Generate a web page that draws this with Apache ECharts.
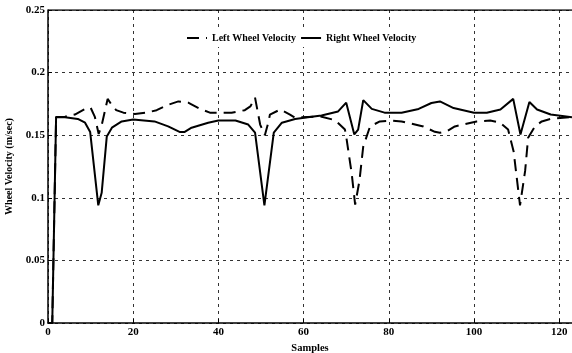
<!DOCTYPE html>
<html>
<head>
<meta charset="utf-8">
<script src="https://cdn.jsdelivr.net/npm/echarts@6/dist/echarts.min.js"></script>
<style>
  html, body { margin: 0; padding: 0; background: #fff; }
  #chart { width: 572px; height: 353px; }
</style>
</head>
<body>
<div id="chart"></div>
<script>
// samples (x) and wheel velocities (m/sec)
const leftX = [0, 1, 1.9, 4, 6.3, 8.7, 10, 11, 11.9, 12.6, 14, 15, 16, 17.7, 20.4, 23.2, 25.5, 28, 30.6, 32.9,
  35.7, 38, 43.1, 46.2, 47.5, 48.6, 49.8, 50.9, 51.7, 52.1, 54.5, 56.8, 58, 61, 64, 67.4, 69.7, 70.1, 71.3, 72.1,
  73.1, 74, 75.6, 77.9, 80.7, 83, 88.1, 90.8, 92, 93.6, 95.5, 100.6, 103.8, 106.1, 108, 109.3, 110.8, 112, 112.7,
  114.3, 115.9, 118, 123];
const leftV = [0, 0, 0.1645, 0.1648, 0.1665, 0.171, 0.172, 0.1646, 0.151, 0.158, 0.179, 0.174, 0.170, 0.168, 0.167,
  0.168, 0.170, 0.174, 0.177, 0.176, 0.171, 0.168, 0.168, 0.170, 0.173, 0.180, 0.1585, 0.150, 0.160, 0.1665,
  0.1705, 0.1665, 0.164, 0.1645, 0.165, 0.162, 0.1545, 0.1467, 0.119, 0.0945, 0.1135, 0.141, 0.157, 0.161,
  0.1617, 0.161, 0.157, 0.1527, 0.152, 0.153, 0.157, 0.161, 0.1617, 0.160, 0.1545, 0.137, 0.094, 0.1215, 0.148,
  0.157, 0.161, 0.163, 0.1645];

const rightX = [0, 1, 1.9, 4, 7, 8.7, 9.9, 11.8, 12.6, 13.8, 15, 17.3, 20, 25, 28.2, 31, 32, 33.7, 37.6, 40, 44,
  47, 48.6, 50.8, 53, 54.9, 58, 61, 64.2, 68.1, 70, 71.9, 72.8, 74, 76, 79, 83, 87, 90, 92, 95.2, 100, 103, 106.2,
  109.2, 110.9, 113, 114.8, 118, 123];
const rightV = [0, 0, 0.1645, 0.1643, 0.163, 0.160, 0.1525, 0.094, 0.104, 0.149, 0.156, 0.161, 0.1625, 0.161,
  0.157, 0.1525, 0.1525, 0.156, 0.160, 0.1617, 0.1617, 0.1585, 0.152, 0.094, 0.152, 0.160, 0.163, 0.1643,
  0.1657, 0.169, 0.176, 0.1506, 0.1545, 0.178, 0.171, 0.168, 0.168, 0.171, 0.1757, 0.177, 0.1717, 0.168, 0.168,
  0.1705, 0.179, 0.1506, 0.1765, 0.1705, 0.1665, 0.1643];

const xTicks = [0, 20, 40, 60, 80, 100, 120];
const yTicks = [0, 0.05, 0.1, 0.15, 0.2, 0.25];

const font = 'Liberation Serif';
const pair = (xs, vs) => xs.map((x, i) => [x, vs[i]]);

const myChart = echarts.init(document.getElementById('chart'));

const gridLine = {
  show: true,
  lineStyle: { color: '#333', type: [3, 4], width: 1 },
};

const option = {
  animation: false,
  backgroundColor: '#fff',
  grid: { left: 48, right: 0, top: 10, bottom: 30, outerBoundsMode: 'none', containLabel: false },
  legend: {
    left: 180,
    top: 29,
    itemWidth: 20,
    itemHeight: 12,
    itemGap: 4,
    padding: [4, 6, 4, 6],
    backgroundColor: '#fff',
    itemStyle: { opacity: 0 },
    textStyle: { fontFamily: font, fontWeight: 'bold', fontSize: 10, color: '#000' },
    data: ['Left Wheel Velocity', 'Right Wheel Velocity'],
  },
  xAxis: {
    type: 'value',
    min: 0,
    max: 123,
    interval: 20,
    name: 'Samples',
    nameLocation: 'middle',
    nameGap: 20,
    nameTextStyle: { fontFamily: font, fontWeight: 'bold', fontSize: 10.5, color: '#000' },
    axisLine: { lineStyle: { color: '#000', width: 1.5 } },
    axisTick: { inside: true, length: 4, lineStyle: { color: '#000' } },
    axisLabel: {
      margin: 4,
      fontFamily: font,
      fontWeight: 'bold',
      fontSize: 11,
      color: '#000',
      formatter: (v) => (xTicks.includes(v) ? String(v) : ''),
    },
    splitLine: gridLine,
  },
  yAxis: {
    type: 'value',
    min: 0,
    max: 0.25,
    interval: 0.05,
    name: 'Wheel Velocity (m/sec)',
    nameLocation: 'middle',
    nameGap: 33,
    nameTextStyle: { fontFamily: font, fontWeight: 'bold', fontSize: 10, color: '#000' },
    axisLine: { show: true, lineStyle: { color: '#000', width: 1.5 } },
    axisTick: { inside: true, length: 4, lineStyle: { color: '#000' } },
    axisLabel: {
      margin: 3,
      fontFamily: font,
      fontWeight: 'bold',
      fontSize: 11,
      color: '#000',
      formatter: (v) => {
        const t = yTicks.find((y) => Math.abs(y - v) < 1e-9)
        return t === undefined ? '' : String(+t.toFixed(2))
      },
    },
    splitLine: gridLine,
  },
  series: [
    {
      name: 'Left Wheel Velocity',
      type: 'line',
      symbol: 'none',
      data: pair(leftX, leftV),
      lineStyle: { color: '#000', width: 2, type: [12, 7] },
      itemStyle: { color: '#000' },
      z: 3,
    },
    {
      name: 'Right Wheel Velocity',
      type: 'line',
      symbol: 'none',
      data: pair(rightX, rightV),
      lineStyle: { color: '#000', width: 2, type: 'solid' },
      itemStyle: { color: '#000' },
      z: 2,
    },
    {
      // top border of the axes box
      type: 'line',
      symbol: 'none',
      silent: true,
      data: [[0, 0.25], [123, 0.25]],
      lineStyle: { color: '#000', width: 1.5 },
      z: 1,
    },
  ],
};

myChart.setOption(option);
</script>
</body>
</html>
